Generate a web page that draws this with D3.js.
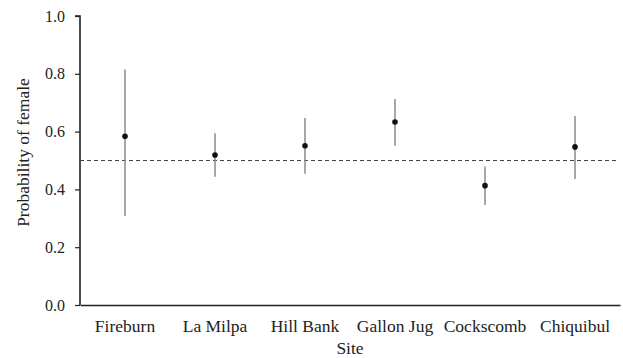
<!DOCTYPE html>
<html>
<head>
<meta charset="utf-8">
<script src="https://cdn.jsdelivr.net/npm/d3@7"></script>
<style>
  body { margin: 0; background: #fff; }
</style>
</head>
<body>
<div id="chart"></div>
<script>
/* ===== DATA ===== */
const sites = ["Fireburn", "La Milpa", "Hill Bank", "Gallon Jug", "Cockscomb", "Chiquibul"];
const estimate = [0.584, 0.519, 0.551, 0.633, 0.413, 0.547];
const lower = [0.308, 0.444, 0.454, 0.551, 0.346, 0.436];
const upper = [0.815, 0.594, 0.647, 0.713, 0.479, 0.654];
const yTicks = [0.0, 0.2, 0.4, 0.6, 0.8, 1.0];
const refLine = 0.5;

/* ===== LAYOUT ===== */
const width = 623, height = 358;
const margin = { top: 16, right: 3, bottom: 53, left: 80 };
const serif = "Liberation Serif";

const svg = d3.select("#chart").append("svg")
    .attr("width", width)
    .attr("height", height)
    .style("font-family", serif);

const x = d3.scaleBand()
    .domain(sites)
    .range([margin.left, width - margin.right]);

const y = d3.scaleLinear()
    .domain([0, 1])
    .range([height - margin.bottom, margin.top]);

/* ===== AXES ===== */
const yAxis = svg.append("g")
    .attr("transform", `translate(${margin.left},0)`)
    .call(d3.axisLeft(y).tickValues(yTicks).tickFormat(d3.format(".1f")).tickSize(5).tickPadding(10));

yAxis.attr("font-family", null).style("font-family", serif);
yAxis.select(".domain").attr("stroke", "#222").attr("stroke-width", 1.6)
    .attr("d", `M-5,${y(1)}H0V${y(0)}`);
yAxis.selectAll(".tick line").attr("stroke", "#222").attr("stroke-width", 1.2);
yAxis.selectAll(".tick text").style("font-family", serif).style("font-size", "16px").attr("fill", "#222");

const xAxis = svg.append("g")
    .attr("transform", `translate(0,${y(0)})`)
    .call(d3.axisBottom(x).tickSize(0).tickPadding(15));

xAxis.attr("font-family", null).style("font-family", serif);
xAxis.select(".domain").attr("stroke", "#222").attr("stroke-width", 1.6);
xAxis.selectAll(".tick text").style("font-family", serif).style("font-size", "17.5px").attr("fill", "#222");

/* ===== REFERENCE LINE ===== */
svg.append("line")
    .attr("x1", margin.left)
    .attr("x2", width - 6)
    .attr("y1", y(refLine))
    .attr("y2", y(refLine))
    .attr("stroke", "#444")
    .attr("stroke-width", 1)
    .attr("stroke-dasharray", "4,3");

/* ===== ERROR BARS + POINTS ===== */
const rows = sites.map((s, i) => ({ site: s, est: estimate[i], lo: lower[i], hi: upper[i] }));
const cx = (d) => x(d.site) + x.bandwidth() / 2;

svg.append("g")
    .selectAll("line")
    .data(rows)
    .enter()
    .append("line")
    .attr("x1", cx)
    .attr("x2", cx)
    .attr("y1", (d) => y(d.lo))
    .attr("y2", (d) => y(d.hi))
    .attr("stroke", "#8a8a8a")
    .attr("stroke-width", 1.5);

svg.append("g")
    .selectAll("circle")
    .data(rows)
    .enter()
    .append("circle")
    .attr("cx", cx)
    .attr("cy", (d) => y(d.est))
    .attr("r", 2.8)
    .attr("fill", "#111");

/* ===== LABELS ===== */
svg.append("text")
    .attr("x", (margin.left + width - margin.right) / 2)
    .attr("y", 354)
    .attr("text-anchor", "middle")
    .style("font-family", serif)
    .style("font-size", "17.5px")
    .attr("fill", "#222")
    .text("Site");

svg.append("text")
    .attr("transform", `translate(29,${(y(0) + y(1)) / 2 - 8}) rotate(-90)`)
    .attr("text-anchor", "middle")
    .style("font-family", serif)
    .style("font-size", "17.5px")
    .attr("fill", "#222")
    .text("Probability of female");
</script>
</body>
</html>
